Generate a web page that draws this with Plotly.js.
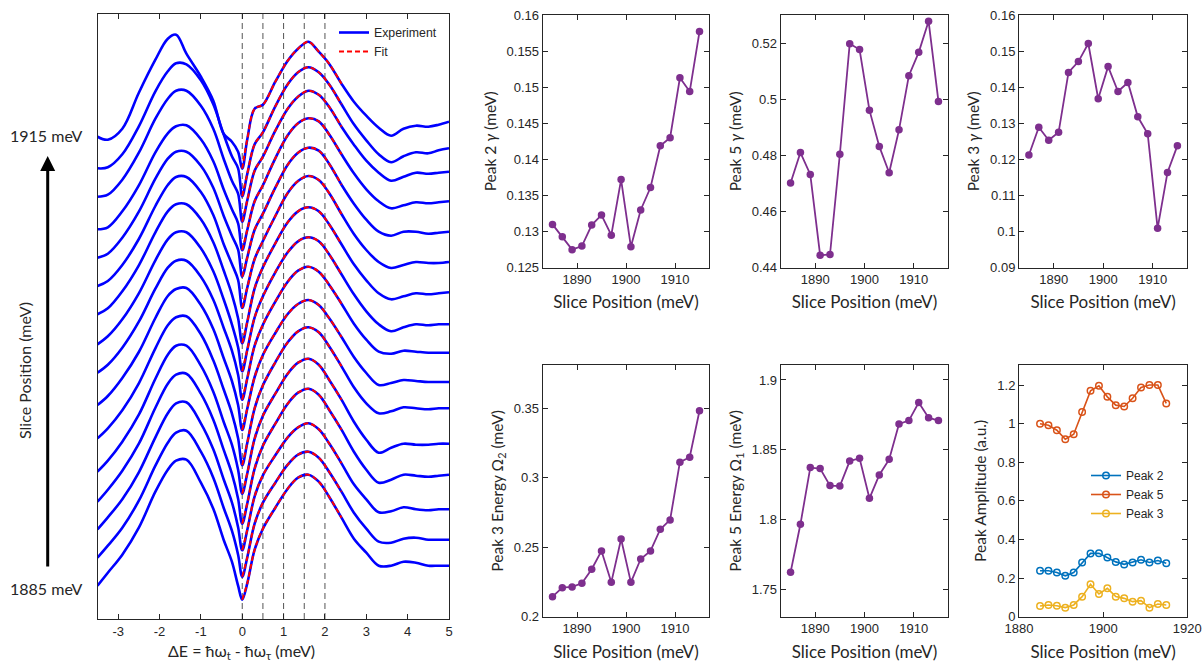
<!DOCTYPE html>
<html><head><meta charset="utf-8">
<script src="https://cdn.plot.ly/plotly-3.0.1.min.js"></script>
<style>html,body{margin:0;padding:0;background:#fff}#chart{width:1202px;height:662px}</style>
</head><body><div id="chart"></div>
<script>
// ---------- data ----------
const slicePos = [1885,1887,1889,1891,1893,1895,1897,1899,1901,1903,1905,1907,1909,1911,1913,1915];
const energyGrid = [-3.5,-3.25,-2.9,-2.5,-2.1,-1.8,-1.6,-1.35,-1.0,-0.7,-0.45,-0.25,-0.1,0,0.12,0.3,0.5,0.8,1.1,1.35,1.6,1.85,2.1,2.4,2.7,3.0,3.3,3.6,3.9,4.2,4.5,4.75,5.0];
const energyTicks = [-3,-2,-1,0,1,2,3,4,5];
const energyTickText = ['-3','-2','-1','0','1','2','3','4','5'];
const peakMarkers = [0,0.5,1,1.5,2];
const sliceOffset = [33.3,61.3,89.7,117.3,147.3,180.7,214,246.3,274.7,304.7,333,361.3,389.7,422.3,450.7,482.3];
const spectrum1885 = [0,13,31,58,94,116,125,126,103,77,46,24,0,-14,2,36,57,78,97,108,111,104,89,68,47,33,20,20,24,23,20,20,20];
const spectrum1887 = [0,12,30,57,92,115,125,127,106,80,50,27,3,-19,0,34,55,75,93,103,106,100,86,66,45,29,16,15,19,20,18,18,18];
const spectrum1889 = [0,12,30,57,92,116,126,127,106,80,50,27,2,-21,-1,33,54,74,92,102,106,100,86,66,45,30,17,18,22,20,19,20,20];
const spectrum1891 = [0,12,31,58,94,118,127,128,108,82,52,28,3,-22,-2,33,56,78,98,109,113,107,92,72,50,32,19,22,27,26,25,26,27];
const spectrum1893 = [0,11,30,57,93,117,126,126,106,80,50,27,2,-22,-2,33,56,78,98,109,113,107,92,72,50,32,19,24,28,27,27,28,28];
const spectrum1895 = [0,10,28,55,90,113,121,122,104,78,49,25,0,-27,-5,30,53,76,96,107,111,106,92,72,51,35,25,27,31,30,29,30,30];
const spectrum1897 = [0,9,27,53,87,109,116,117,100,76,47,24,0,-25,-4,28,50,72,91,101,105,100,87,68,48,32,20,22,25,24,23,23,23];
const spectrum1899 = [0,8,25,51,84,105,112,112,96,73,45,22,-2,-27,-6,27,48,71,91,102,106,101,88,69,49,33,21,19,22,21,20,20,20];
const spectrum1901 = [0,8,25,51,84,105,112,112,96,73,45,20,-3,-27,-6,27,48,72,92,103,107,103,90,70,50,33,20,13,17,20,19,20,20];
const spectrum1903 = [0,6,23,49,82,103,110,110,95,72,44,20,-4,-29,-8,26,47,71,92,103,107,103,90,70,50,34,21,15,18,21,20,21,22];
const spectrum1905 = [0,5,21,47,80,101,109,109,94,71,42,22,6,-22,-2,27,45,70,93,105,110,106,93,72,52,36,24,18,21,24,23,23,24];
const spectrum1907 = [0,4,20,46,79,99,106,106,92,70,42,22,8,-19,0,28,44,70,93,105,110,107,94,73,54,38,26,22,26,26,24,25,26];
const spectrum1909 = [0,2,18,44,77,96,103,104,90,68,40,20,6,-21,-1,28,44,71,94,106,111,108,95,75,56,40,28,21,24,27,26,27,28];
const spectrum1911 = [0,2,17,44,78,98,106,106,91,68,38,16,3,-25,-4,26,40,66,88,100,106,102,90,70,52,36,24,16,20,24,23,24,25];
const spectrum1913 = [0,1,14,42,77,97,105,104,88,64,34,12,0,-28,-6,24,36,62,84,96,101,96,84,64,44,28,14,6,12,16,15,18,20];
const spectrum1915 = [0,-3,8,44,77,98,102,83,60,36,3,-5,-15,-32,-3,28,32,55,76,88,95,85,73,53,35,21,9,1,8,11,10,12,15];
const spectra = [spectrum1885,spectrum1887,spectrum1889,spectrum1891,spectrum1893,spectrum1895,spectrum1897,spectrum1899,
                 spectrum1901,spectrum1903,spectrum1905,spectrum1907,spectrum1909,spectrum1911,spectrum1913,spectrum1915];
const fitStart = 13, fitEnd = 23; // grid indices covered by the fit (0 .. 2.4 meV)

const peak2Gamma = [0.1310,0.1293,0.1275,0.1280,0.1309,0.1323,0.1295,0.1372,0.1279,0.1330,0.1361,0.1419,0.1430,0.1513,0.1494,0.1577];
const peak5Gamma = [0.4702,0.4810,0.4732,0.4444,0.4447,0.4804,0.5198,0.5177,0.4961,0.4832,0.4738,0.4891,0.5084,0.5167,0.5278,0.4992];
const peak3Gamma = [0.1212,0.1289,0.1253,0.1275,0.1441,0.1471,0.1521,0.1368,0.1457,0.1388,0.1413,0.1318,0.1271,0.1009,0.1164,0.1238];
const peak3Energy = [0.2144,0.2209,0.2214,0.2240,0.2341,0.2473,0.2247,0.2559,0.2247,0.2415,0.2473,0.2629,0.2696,0.3111,0.3147,0.3481];
const peak5Energy = [1.7622,1.7966,1.8372,1.8365,1.8243,1.8240,1.8419,1.8439,1.8152,1.8319,1.8431,1.8685,1.8709,1.8838,1.8730,1.8709];
const peak2Amp = [0.238,0.238,0.229,0.212,0.229,0.281,0.328,0.329,0.307,0.284,0.271,0.281,0.295,0.281,0.291,0.277];
const peak5Amp = [1.000,0.992,0.966,0.919,0.945,1.061,1.170,1.196,1.139,1.096,1.089,1.132,1.188,1.200,1.200,1.105];
const peak3Amp = [0.055,0.061,0.057,0.047,0.061,0.104,0.168,0.118,0.147,0.104,0.095,0.078,0.083,0.047,0.066,0.061];

// ---------- styling ----------
const INK = '#262626';
const PURPLE = '#7E2F8E';
const tickFont = {family:'Liberation Sans, Arial, sans-serif', size:13, color:INK};
const yTitleFont = {family:'Lato, Open Sans, sans-serif', size:15.5, color:INK};
const xTitleFont = {family:'Lato, Open Sans, sans-serif', size:17, color:INK};

const traces = [];
spectra.forEach((s,i)=>{
  traces.push({x:energyGrid, y:s.map(v=>v+sliceOffset[i]), type:'scatter', mode:'lines',
    line:{color:'#0000FF', width:2.6, shape:'spline', smoothing:1},
    name:'Experiment', showlegend:i===0, legendrank:1, xaxis:'x', yaxis:'y', hoverinfo:'skip'});
});
spectra.forEach((s,i)=>{
  traces.push({x:energyGrid.slice(fitStart,fitEnd+1), y:s.slice(fitStart,fitEnd+1).map(v=>v+sliceOffset[i]),
    type:'scatter', mode:'lines',
    line:{color:'#FF0000', width:2, dash:'5px,3px', shape:'spline', smoothing:1},
    name:'Fit', showlegend:i===0, legendrank:2, xaxis:'x', yaxis:'y', hoverinfo:'skip'});
});

function purple(y, xa, ya){
  return {x:slicePos, y:y, type:'scatter', mode:'lines+markers', xaxis:xa, yaxis:ya, showlegend:false,
    line:{color:PURPLE, width:1.8}, marker:{color:PURPLE, size:7.5, symbol:'circle'}};
}
traces.push(purple(peak2Gamma,'x2','y2'));
traces.push(purple(peak5Gamma,'x3','y3'));
traces.push(purple(peak3Gamma,'x4','y4'));
traces.push(purple(peak3Energy,'x5','y5'));
traces.push(purple(peak5Energy,'x6','y6'));
const ampSeries = [['Peak 2',peak2Amp,'#0072BD'],['Peak 5',peak5Amp,'#D95319'],['Peak 3',peak3Amp,'#EDB120']];
ampSeries.forEach(([n,y,c])=>{
  traces.push({x:slicePos, y:y, type:'scatter', mode:'lines+markers', xaxis:'x7', yaxis:'y7', name:n, legend:'legend2',
    line:{color:c, width:1.6}, marker:{color:c, size:6.5, symbol:'circle-open', line:{width:1.5, color:c}}});
});

function px2x(p){return p/1202;}
function py2y(p){return (662-p)/662;}
function baseAxis(extra){
  return Object.assign({showline:true, linecolor:INK, linewidth:1, mirror:'ticks', ticks:'inside', ticklen:5,
    tickcolor:INK, tickwidth:1, tickfont:tickFont, showgrid:false, zeroline:false, fixedrange:true}, extra);
}
const colX = [[542.7,709.3],[780.7,948.3],[1019,1187.3]];
const rowY = [[15,267.7],[365,616.7]];
function dx(c){return [px2x(colX[c][0]), px2x(colX[c][1])];}
function dy(r){return [py2y(rowY[r][1]), py2y(rowY[r][0])];}
const sliceTicks = [1890,1900,1910];
function sx(c,r,anchor,extra){
  return baseAxis(Object.assign({domain:dx(c), anchor:anchor, range:[1883,1917], tickvals:sliceTicks,
    title:{text:'Slice Position (meV)', font:xTitleFont, standoff:r===0?9:11}}, extra||{}));
}
function sy(c,r,anchor,title,extra){
  return baseAxis(Object.assign({domain:dy(r), anchor:anchor, title:{text:title, font:yTitleFont, standoff:6}}, extra));
}

const layout = {
  width:1202, height:662, autosize:false, margin:{l:0,r:0,t:0,b:0},
  paper_bgcolor:'#fff', plot_bgcolor:'#fff', showlegend:true,
  xaxis: baseAxis({domain:[px2x(97.5),px2x(449)], anchor:'y', range:[-3.5,5], tickvals:energyTicks, ticktext:energyTickText}),
  yaxis: baseAxis({domain:[py2y(619),py2y(14)], anchor:'x', range:[0,605], showticklabels:false, ticks:'', mirror:true}),
  xaxis2: sx(0,0,'y2'), yaxis2: sy(0,0,'x2','Peak 2 <i>γ</i> (meV)',{range:[0.125,0.16], dtick:0.005, tick0:0.125}),
  xaxis3: sx(1,0,'y3'), yaxis3: sy(1,0,'x3','Peak 5 <i>γ</i> (meV)',{range:[0.44,0.53], dtick:0.02, tick0:0.44}),
  xaxis4: sx(2,0,'y4'), yaxis4: sy(2,0,'x4','Peak 3 <i>γ</i> (meV)',{range:[0.09,0.16], dtick:0.01, tick0:0.09}),
  xaxis5: sx(0,1,'y5'), yaxis5: sy(0,1,'x5','Peak 3 Energy Ω<sub>2</sub> (meV)',{range:[0.2,0.381], dtick:0.05, tick0:0.2}),
  xaxis6: sx(1,1,'y6'), yaxis6: sy(1,1,'x6','Peak 5 Energy Ω<sub>1</sub> (meV)',{range:[1.7304,1.9107], dtick:0.05, tick0:1.75}),
  xaxis7: sx(2,1,'y7',{range:[1880,1920], tickvals:[1880,1900,1920]}),
  yaxis7: sy(2,1,'x7','Peak Amplitude (a.u.)',{range:[0,1.304], dtick:0.2, tick0:0}),
  legend:{x:px2x(334), y:py2y(18), xanchor:'left', yanchor:'top', bgcolor:'rgba(0,0,0,0)', borderwidth:0,
    font:{family:'Liberation Sans, Arial, sans-serif', size:12.3, color:INK}, tracegroupgap:0, itemwidth:30},
  legend2:{x:px2x(1086), y:py2y(461), xanchor:'left', yanchor:'top', bgcolor:'rgba(0,0,0,0)', borderwidth:0,
    font:{family:'Liberation Sans, Arial, sans-serif', size:12, color:INK}, tracegroupgap:0, itemwidth:30},
  shapes: peakMarkers.map(v=>({type:'line', xref:'x', yref:'y domain', x0:v, x1:v, y0:0, y1:1,
    line:{color:'#555555', width:1, dash:'6px,4px'}, layer:'below'})),
  annotations:[
    {xref:'paper', yref:'paper', x:px2x(242), y:py2y(651), text:'ΔE = ħω<sub>t</sub> - ħω<sub>τ</sub> (meV)', showarrow:false,
      font:{family:'Lato, Open Sans, sans-serif', size:16, color:INK}, xanchor:'center', yanchor:'middle'},
    {xref:'paper', yref:'paper', x:px2x(25), y:py2y(371), text:'Slice Position (meV)', textangle:-90, showarrow:false,
      font:{family:'Lato, Open Sans, sans-serif', size:16, color:INK}, xanchor:'center', yanchor:'middle'},
    {xref:'paper', yref:'paper', x:px2x(46), y:py2y(135), text:'1915 meV', showarrow:false,
      font:{family:'Lato, Open Sans, sans-serif', size:16, color:INK}, xanchor:'center', yanchor:'middle'},
    {xref:'paper', yref:'paper', x:px2x(46), y:py2y(588), text:'1885 meV', showarrow:false,
      font:{family:'Lato, Open Sans, sans-serif', size:16, color:INK}, xanchor:'center', yanchor:'middle'},
    {xref:'paper', yref:'paper', x:px2x(47.7), y:py2y(156), ax:0, ay:412, text:'', showarrow:true,
      arrowhead:2, arrowsize:1, arrowwidth:3, arrowcolor:'#000', standoff:0, startstandoff:0}
  ]
};

Plotly.newPlot('chart', traces, layout, {staticPlot:true, displayModeBar:false});
</script>
</body></html>
